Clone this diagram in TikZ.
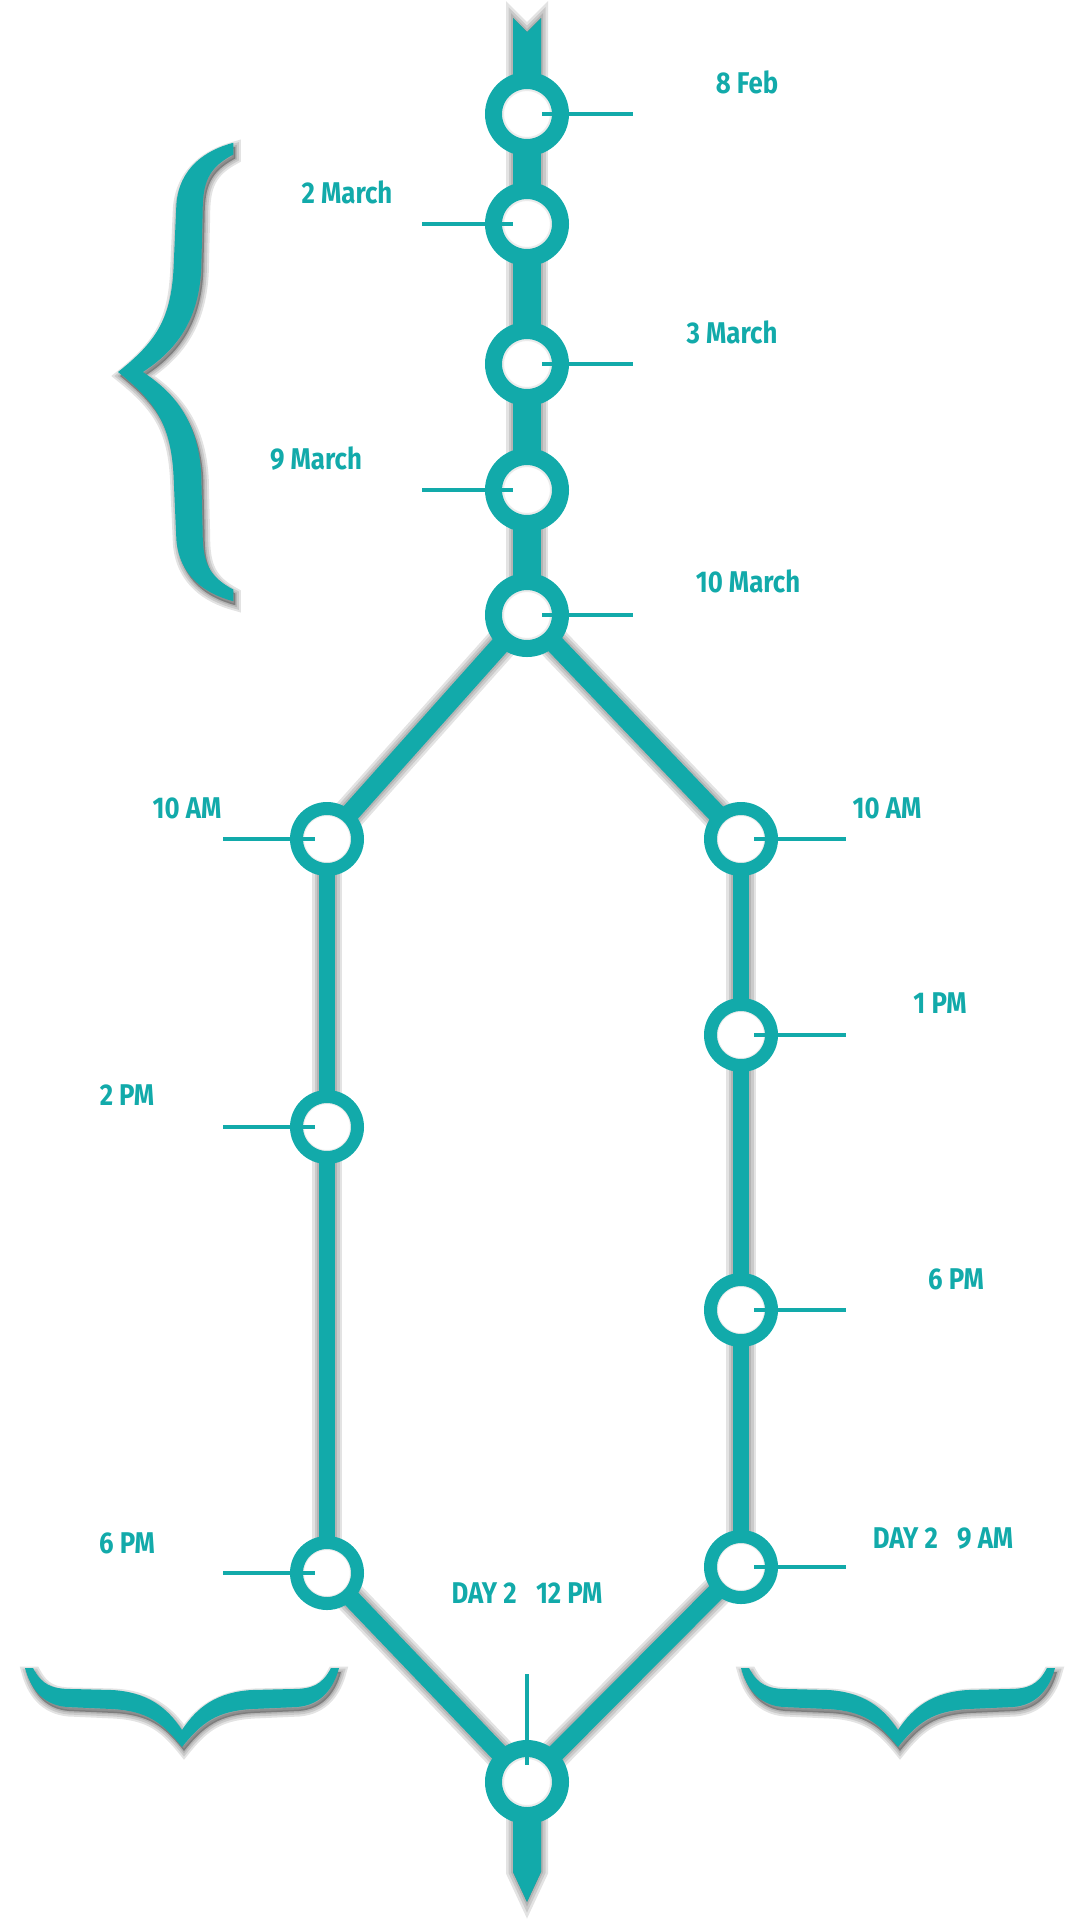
\documentclass[tikz,border=0pt]{standalone}
\usepackage{fontspec}
\setmainfont{Fira Sans}
\usetikzlibrary{positioning,calc,backgrounds}
\definecolor{trackcolor}{RGB}{18,170,170}
\tikzset{
  innerrim/.style={path picture={\draw[black, opacity=0.08, line width=3pt]
    (path picture bounding box.center) circle (24.5pt);}},
  mainring/.style={circle, draw=trackcolor, line width=17pt, fill=white,
    minimum size=67pt, inner sep=0pt, innerrim},
  branchring/.style={circle, draw=trackcolor, line width=13pt, fill=white,
    minimum size=61pt, inner sep=0pt, innerrim},
  trackln/.style={draw=trackcolor, line width=#1},
  shadowln/.style={black, opacity=0.11, line width=#1, shift={(2,4)}},
  tickln/.style={draw=trackcolor, line width=4pt},
  datelbl/.style={text=trackcolor, font=\fontsize{30}{34}\selectfont\bfseries,
    inner sep=0pt, text height=20.7pt, text depth=0pt},
}
\newcommand{\lbl}[1]{\scalebox{0.86}[1]{#1}}
% curly brace, tip at the origin, arms pointing up
\newcommand{\bracepath}{(0,0) .. controls (-20,-25) and (-35,-36) .. (-70,-38)
  -- (-115,-40) .. controls (-140,-42) and (-152,-60) .. (-157,-79) -- (-149,-79)
  .. controls (-140,-62) and (-130,-58) .. (-110,-58) -- (-70,-57)
  .. controls (-35,-55) and (-15,-40) .. (0,-17)
  .. controls (15,-40) and (35,-55) .. (70,-57) -- (110,-58)
  .. controls (130,-58) and (140,-62) .. (149,-79) -- (157,-79)
  .. controls (152,-60) and (140,-42) .. (115,-40) -- (70,-38)
  .. controls (35,-36) and (20,-25) .. (0,0) -- cycle}

\begin{document}
\begin{tikzpicture}[x=1pt, y=-1pt]
  \useasboundingbox (0,0) rectangle (1080,1920);

  % stations
  \foreach \n/\y in {1/114, 2/224, 3/364, 4/490, 5/615}
    \node[mainring] (c\n) at (527,\y) {};
  \foreach \n/\y in {1/839, 2/1127, 3/1573}
    \node[branchring] (l\n) at (327,\y) {};
  \foreach \n/\y in {1/839, 2/1035, 3/1310, 4/1567}
    \node[branchring] (r\n) at (741,\y) {};
  \node[mainring] (b) at (527,1782) {};

  \begin{scope}[on background layer]
    % soft shadows
    \foreach \e in {4,9,14} {
      \draw[shadowln=28+\e] (c1.center) -- (c5.center);
      \draw[shadowln=19+\e] (c5.center) -- (l1.center);
      \draw[shadowln=19+\e] (c5.center) -- (r1.center);
      \draw[shadowln=16+\e] (l1.center) -- (l3.center);
      \draw[shadowln=16+\e] (r1.center) -- (r4.center);
      \draw[shadowln=18+\e] (l3.center) -- (b.center);
      \draw[shadowln=18+\e] (r4.center) -- (b.center);
      \filldraw[shadowln=\e] (c1.center) ++(-14,0) -- ++(0,-96) -- ++(14,14)
        -- ++(14,-14) -- ++(0,96) -- cycle;
      \filldraw[shadowln=\e] (b.center) ++(-14,0) -- ++(0,90) -- ++(14,30)
        -- ++(14,-30) -- ++(0,-90) -- cycle;
    }
    % tracks
    \fill[trackcolor] (c1.center) ++(-14,0) -- ++(0,-96) -- ++(14,14)
      -- ++(14,-14) -- ++(0,96) -- cycle;
    \draw[trackln=28pt] (c1.center) -- (c2.center) -- (c3.center)
      -- (c4.center) -- (c5.center);
    \draw[trackln=19pt] (l1.center) -- (c5.center) -- (r1.center);
    \draw[trackln=16pt] (l1.center) -- (l2.center) -- (l3.center);
    \draw[trackln=16pt] (r1.center) -- (r2.center) -- (r3.center) -- (r4.center);
    \draw[trackln=18pt] (l3.center) -- (b.center) -- (r4.center);
    \fill[trackcolor] (b.center) ++(-14,0) -- ++(0,90) -- ++(14,30)
      -- ++(14,-30) -- ++(0,-90) -- cycle;
  \end{scope}

  % ticks
  \foreach \n in {1,3,5}
    \draw[tickln] ($(c\n)+(15,0)$) -- ++(91,0);
  \foreach \n in {2,4}
    \draw[tickln] ($(c\n)+(-105,0)$) -- ++(91,0);
  \foreach \n in {1,2,3}
    \draw[tickln] ($(l\n)+(-104,0)$) -- ++(92,0);
  \foreach \n in {1,2,3,4}
    \draw[tickln] ($(r\n)+(13,0)$) -- ++(92,0);
  \draw[tickln] ($(b)+(0,-108)$) -- ++(0,91);

  % braces
  \foreach \e in {3,7,11} {
    \filldraw[shadowln=\e, shift={(118,372)}, rotate=-90, scale=1.46] \bracepath;
    \filldraw[shadowln=\e, shift={(182,1747)}] \bracepath;
    \filldraw[shadowln=\e, shift={(898,1747)}] \bracepath;
  }
  \fill[trackcolor, shift={(118,372)}, rotate=-90, scale=1.46] \bracepath;
  \fill[trackcolor, shift={(182,1747)}] \bracepath;
  \fill[trackcolor, shift={(898,1747)}] \bracepath;

  % dates
  \node[datelbl] (t1) at (747,83) {\lbl{8 Feb}};
  \node[datelbl] (t2) at (347,193) {\lbl{2 March}};
  \node[datelbl] (t3) at (732,333) {\lbl{3 March}};
  \node[datelbl] (t4) at (316,459) {\lbl{9 March}};
  \node[datelbl] (t5) at (748,582) {\lbl{10 March}};
  \node[datelbl] (tl1) at (187,808) {\lbl{10 AM}};
  \node[datelbl] (tl2) at (127,1095) {\lbl{2 PM}};
  \node[datelbl] (tl3) at (127,1543) {\lbl{6 PM}};
  \node[datelbl] (tr1) at (887,808) {\lbl{10 AM}};
  \node[datelbl] (tr2) at (940,1003) {\lbl{1 PM}};
  \node[datelbl] (tr3) at (956,1279) {\lbl{6 PM}};
  \node[datelbl] (tr4) at (943,1538) {\lbl{DAY 2\hspace{0.75em}9 AM}};
  \node[datelbl] (tb) at (527,1593) {\lbl{DAY 2\hspace{0.75em}12 PM}};
\end{tikzpicture}
\end{document}
